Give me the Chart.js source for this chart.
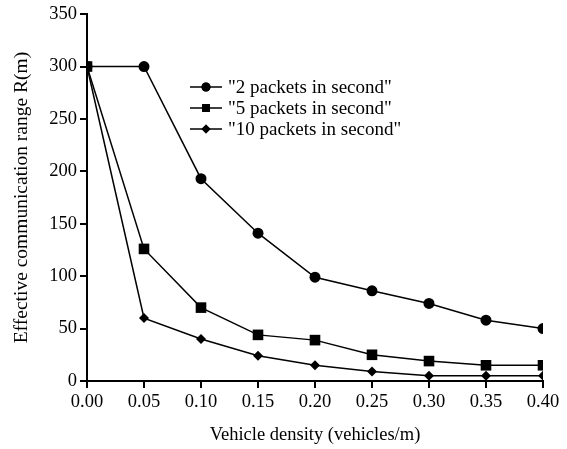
<!DOCTYPE html>
<html>
<head>
<meta charset="utf-8">
<script src="https://cdn.jsdelivr.net/npm/chart.js@4"></script>
<style>
  html,body{margin:0;padding:0;background:#fff;}
  #wrap{width:567px;height:449px;}
</style>
</head>
<body>
<div id="wrap"><canvas id="c" width="567" height="449"></canvas></div>
<script>
// ---------- DATA ----------
const density = [0.00, 0.05, 0.10, 0.15, 0.20, 0.25, 0.30, 0.35, 0.40];
const range2  = [300, 300, 193, 141, 99, 86, 74, 58, 50];
const range5  = [300, 126, 70, 44, 39, 25, 19, 15, 15];
const range10 = [300, 60, 40, 24, 15, 9, 5, 5, 5];
const seriesNames = ['"2 packets in second"', '"5 packets in second"', '"10 packets in second"'];
const yTicks = [0, 50, 100, 150, 200, 250, 300, 350];

const FONT = '"Liberation Serif", "Times New Roman", serif';
const pts = ys => density.map((x,i)=>({x, y: ys[i]}));

function ds(label, ys, style, r){
  return {label, data: pts(ys), borderColor:'#000', backgroundColor:'#000', borderWidth:1.5,
    pointStyle: style, pointRadius: r, pointHoverRadius: r, pointBorderWidth: 0, tension: 0};
}

// legend drawn inside plot area, like the original figure
const innerLegend = {
  id:'innerLegend',
  afterDraw(chart){
    const ctx = chart.ctx;
    const rows = [
      {y:87, style:'circle', r:4.5},
      {y:108, style:'rect', r:5.5},
      {y:129, style:'rectRot', r:4.5}
    ];
    ctx.save();
    ctx.font = '19px ' + FONT;
    ctx.textBaseline = 'middle';
    ctx.fillStyle = '#000';
    rows.forEach((row,i)=>{
      ctx.strokeStyle = '#000'; ctx.lineWidth = 1.5;
      ctx.beginPath(); ctx.moveTo(190, row.y); ctx.lineTo(222, row.y); ctx.stroke();
      Chart.helpers.drawPoint(ctx, {pointStyle: row.style, radius: row.r, borderWidth: 0}, 206, row.y);
      ctx.fill();
      ctx.fillText(seriesNames[i], 228, row.y + 1);
    });
    ctx.restore();
  }
};

new Chart(document.getElementById('c').getContext('2d'), {
  type:'line',
  data:{datasets:[
    ds(seriesNames[0], range2, 'circle', 5.5),
    ds(seriesNames[1], range5, 'rect', 7.5),
    ds(seriesNames[2], range10, 'rectRot', 5)
  ]},
  options:{
    responsive:false, animation:false,
    layout:{padding:{top:13, right:24, left:0, bottom:0}},
    plugins:{legend:{display:false}, tooltip:{enabled:false}},
    scales:{
      x:{type:'linear', min:0, max:0.4,
        afterBuildTicks: s => { s.ticks = density.map(v=>({value:v})); },
        afterFit: s => { s.height = 68; },
        border:{color:'#000', width:2},
        grid:{drawOnChartArea:false, color:'#000', tickLength:7, lineWidth:2},
        ticks:{color:'#000', font:{family:FONT, size:18.5}, padding:3, maxRotation:0,
          callback: v => Number(v).toFixed(2)},
        title:{display:true, text:'Vehicle density (vehicles/m)', color:'#000',
          font:{family:FONT, size:18.5}, padding:{top:12, bottom:3}}
      },
      y:{min:0, max:350,
        afterBuildTicks: s => { s.ticks = yTicks.map(v=>({value:v})); },
        afterFit: s => { s.width = 87; },
        border:{color:'#000', width:2},
        grid:{drawOnChartArea:false, color:'#000', tickLength:7, lineWidth:2},
        ticks:{color:'#000', font:{family:FONT, size:18.5}, padding:3},
        title:{display:true, text:'Effective communication range R(m)', color:'#000',
          font:{family:FONT, size:19.5}, padding:{top:10, bottom:4}}
      }
    }
  },
  plugins:[innerLegend]
});
</script>
</body>
</html>
